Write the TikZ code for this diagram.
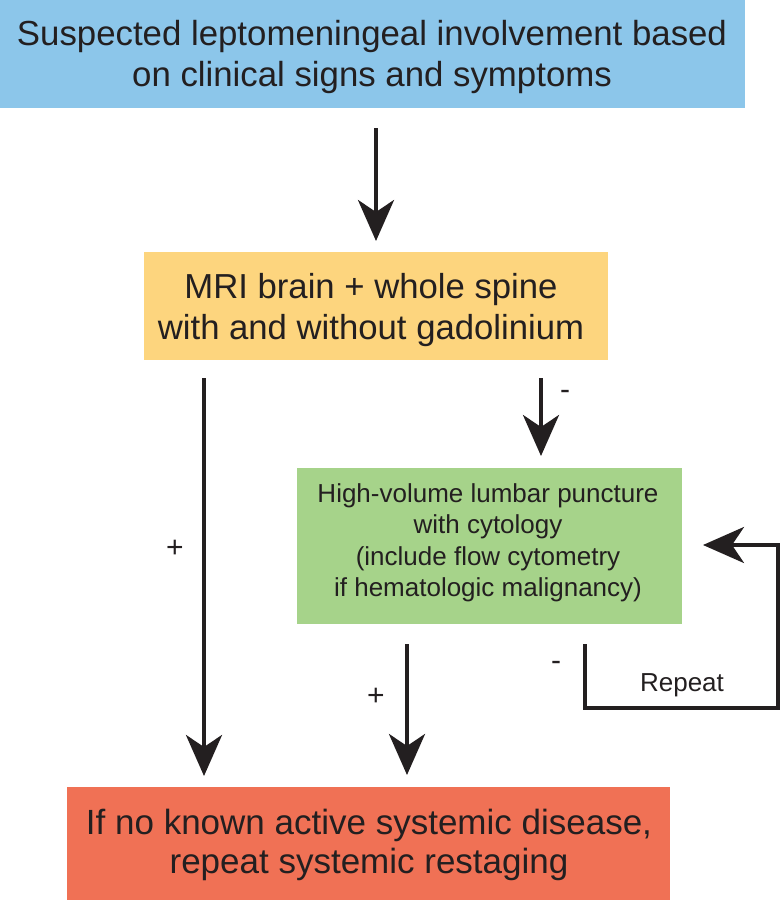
\documentclass[tikz,border=0pt]{standalone}
\usepackage{fontspec}
\setmainfont{Liberation Sans}
\usetikzlibrary{arrows.meta}
\definecolor{cblue}{HTML}{8CC6EA}
\definecolor{cyellow}{HTML}{FDD57E}
\definecolor{cgreen}{HTML}{A6D38A}
\definecolor{cred}{HTML}{F07155}
\definecolor{ink}{HTML}{231F20}
\begin{document}
\begin{tikzpicture}[x=1pt,y=-1pt,
  box/.style={inner sep=0pt, outer sep=0pt, align=center, text=ink},
  arr/.style={line width=4pt, draw=ink, -{Stealth[length=41pt,width=36pt,inset=12pt]}},
  lbl/.style={text=ink, font=\fontsize{30}{34}\selectfont}]
\useasboundingbox (0,0) rectangle (782,900);
% boxes
\fill[cblue] (0,0) rectangle (745,108);
\node[box, font=\fontsize{34.8}{40}\selectfont] (top) at (372,57) {Suspected leptomeningeal involvement based\\on clinical signs and symptoms};
\fill[cyellow] (144,252) rectangle (608,360);
\node[box, font=\fontsize{34.7}{41}\selectfont] (mri) at (371,310) {MRI brain + whole spine\\with and without gadolinium};
\fill[cgreen] (297,468) rectangle (682,624);
\node[box, font=\fontsize{26}{31.5}\selectfont] (lp) at (488,543) {High-volume lumbar puncture\\with cytology\\(include flow cytometry\\if hematologic malignancy)};
\fill[cred] (67,787) rectangle (670,900);
\node[box, font=\fontsize{35}{39}\selectfont] (res) at (369,845) {If no known active systemic disease,\\repeat systemic restaging};
% connectors
\coordinate (a1s) at (376,128); \coordinate (a1e) at (376,241);
\draw[arr] (a1s) -- (a1e);
\coordinate (a2s) at (204,378); \coordinate (a2e) at (204,776);
\draw[arr] (a2s) -- (a2e);
\coordinate (a3s) at (541,378); \coordinate (a3e) at (541,456);
\draw[arr] (a3s) -- (a3e);
\coordinate (a4s) at (407,644); \coordinate (a4e) at (407,775);
\draw[arr] (a4s) -- (a4e);
\coordinate (l1) at (585,644); \coordinate (l2) at (585,708);
\coordinate (l3) at (778,708); \coordinate (l4) at (778,545);
\coordinate (l5) at (703,545);
\draw[arr, line join=miter] (l1) -- (l2) -- (l3) -- (l4) -- (l5);
% labels
\node[lbl] (p1) at (175,549) {+};
\node[lbl] (m1) at (565,395) {-};
\node[lbl] (p2) at (376,697) {+};
\node[lbl] (m2) at (556,666) {-};
\node[lbl, font=\fontsize{26}{30}\selectfont] (rep) at (682,685) {Repeat};
\end{tikzpicture}
\end{document}
